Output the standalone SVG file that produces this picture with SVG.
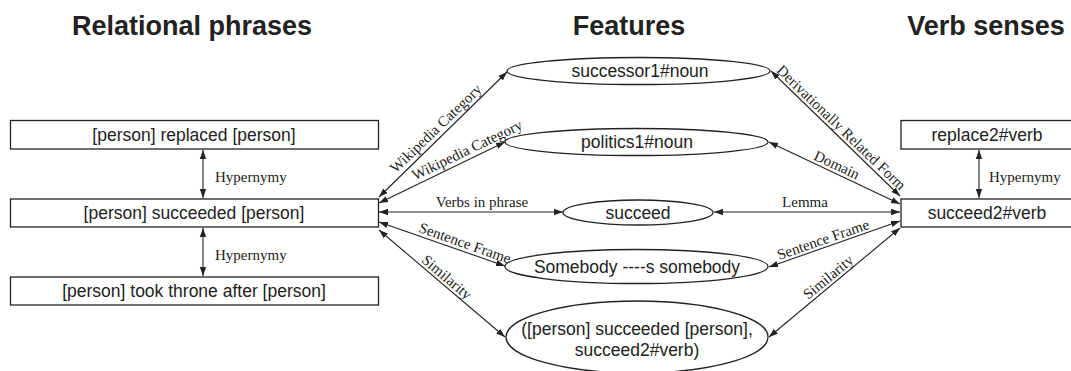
<svg xmlns="http://www.w3.org/2000/svg" width="1071" height="371" viewBox="0 0 1071 371">
<style>
.hdr{font-family:"Liberation Sans",Arial,sans-serif;font-size:27px;font-weight:bold;fill:#222;text-anchor:middle}
.nt{font-family:"Liberation Sans",Arial,sans-serif;font-size:17.5px;fill:#222;text-anchor:middle}
.el{font-family:"Liberation Serif","Times New Roman",serif;font-size:15px;fill:#222;text-anchor:middle}
.box{fill:#fff;stroke:#222;stroke-width:1.3}
.ell{fill:#fff;stroke:#222;stroke-width:1.3}
.ln{fill:none;stroke:#222;stroke-width:1.1;marker-start:url(#ah);marker-end:url(#ah)}
</style>
<defs>
<marker id="ah" markerUnits="userSpaceOnUse" markerWidth="10" markerHeight="8" refX="9" refY="4" orient="auto-start-reverse">
<path d="M0,0.8 L9,4 L0,7.2 z" fill="#222"/>
</marker>
</defs>
<rect width="1071" height="371" fill="#fff"/>
<text class="hdr" x="192" y="35">Relational phrases</text>
<text class="hdr" x="629" y="35">Features</text>
<text class="hdr" x="986" y="35">Verb senses</text>

<g id="connectors">
<line class="ln" x1="203" y1="150" x2="203" y2="198"/>
<text class="el" x="215" y="182" style="text-anchor:start">Hypernymy</text>
<line class="ln" x1="203" y1="228" x2="203" y2="276"/>
<text class="el" x="215" y="260" style="text-anchor:start">Hypernymy</text>
<line class="ln" x1="979" y1="150" x2="979" y2="198"/>
<text class="el" x="989" y="182" style="text-anchor:start">Hypernymy</text>

<line class="ln" x1="379" y1="197" x2="507" y2="72"/>
<text class="el" transform="translate(442,135) rotate(-43.8)" y="-4">Wikipedia Category</text>
<line class="ln" x1="379" y1="203" x2="505" y2="142"/>
<text class="el" transform="translate(471,158) rotate(-25.7)" y="-4">Wikipedia Category</text>
<line class="ln" x1="379" y1="212" x2="563" y2="212"/>
<text class="el" x="482" y="207">Verbs in phrase</text>
<line class="ln" x1="379" y1="222" x2="505" y2="266"/>
<text class="el" transform="translate(462,251.5) rotate(19.5)" y="-4">Sentence Frame</text>
<line class="ln" x1="379" y1="230" x2="505" y2="337"/>
<text class="el" transform="translate(441,284) rotate(40.4)" y="-4">Similarity</text>

<line class="ln" x1="771" y1="71" x2="900" y2="196"/>
<text class="el" transform="translate(835,134) rotate(43.9)" y="-4">Derivationally Related Form</text>
<line class="ln" x1="769" y1="142" x2="900" y2="204"/>
<text class="el" transform="translate(833,173) rotate(25)" y="-4">Domain</text>
<line class="ln" x1="714" y1="212" x2="900" y2="212"/>
<text class="el" x="805" y="207">Lemma</text>
<line class="ln" x1="769" y1="267" x2="900" y2="221"/>
<text class="el" transform="translate(826,248) rotate(-19)" y="-4">Sentence Frame</text>
<line class="ln" x1="769" y1="337" x2="900" y2="228"/>
<text class="el" transform="translate(834,284) rotate(-39.6)" y="-4">Similarity</text>
</g>

<g id="n_replaced">
<rect class="box" x="10.5" y="120.5" width="368" height="28.5"/>
<text class="nt" x="194" y="141">[person] replaced [person]</text>
</g>
<g id="n_succeeded">
<rect class="box" x="10.5" y="199" width="368" height="28"/>
<text class="nt" x="194" y="219">[person] succeeded [person]</text>
</g>
<g id="n_took">
<rect class="box" x="10.5" y="277" width="368" height="28"/>
<text class="nt" x="194" y="297">[person] took throne after [person]</text>
</g>

<g id="n_successor">
<ellipse class="ell" cx="638.5" cy="71" rx="131.5" ry="13.5"/>
<text class="nt" x="640" y="77">successor1#noun</text>
</g>
<g id="n_politics">
<ellipse class="ell" cx="636.5" cy="142" rx="131.5" ry="13.5"/>
<text class="nt" x="637" y="148">politics1#noun</text>
</g>
<g id="n_succeed">
<ellipse class="ell" cx="638" cy="212.5" rx="75" ry="12.5"/>
<text class="nt" x="638" y="219">succeed</text>
</g>
<g id="n_frame">
<ellipse class="ell" cx="636.5" cy="266.5" rx="131.5" ry="17"/>
<text class="nt" x="637" y="273">Somebody ----s somebody</text>
</g>
<g id="n_pair">
<ellipse class="ell" cx="637" cy="337" rx="131" ry="36"/>
<text class="nt" x="637" y="335">([person] succeeded [person],</text>
<text class="nt" x="637" y="356">succeed2#verb)</text>
</g>

<g id="n_replace2">
<rect class="box" x="901" y="120.5" width="175" height="28.5"/>
<text class="nt" x="987" y="141">replace2#verb</text>
</g>
<g id="n_succeed2">
<rect class="box" x="901" y="199" width="175" height="28"/>
<text class="nt" x="987" y="219">succeed2#verb</text>
</g>
</svg>
